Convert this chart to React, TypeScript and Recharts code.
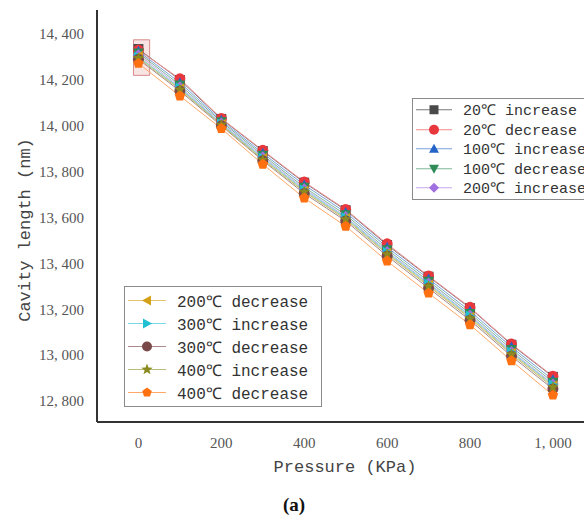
import React from "react";
import {
  LineChart,
  Line,
  XAxis,
  YAxis,
  ReferenceArea,
} from "recharts";

const pressures = [0, 100, 200, 300, 400, 500, 600, 700, 800, 900, 1000];

const inc20 = [14335, 14200, 14030, 13890, 13752, 13632, 13480, 13342, 13205, 13045, 12905];
const dec20 = [14330, 14205, 14032, 13893, 13755, 13635, 13485, 13345, 13208, 13048, 12908];
const inc100 = [14325, 14188, 14024, 13880, 13742, 13622, 13470, 13332, 13192, 13035, 12892];
const dec100 = [14318, 14178, 14018, 13872, 13732, 13612, 13460, 13322, 13182, 13025, 12882];
const inc200 = [14310, 14170, 14012, 13865, 13725, 13604, 13452, 13314, 13174, 13016, 12874];
const dec200 = [14302, 14162, 14006, 13857, 13716, 13596, 13444, 13305, 13165, 13008, 12866];
const inc300 = [14300, 14165, 14008, 13860, 13720, 13600, 13448, 13310, 13170, 13012, 12870];
const dec300 = [14290, 14152, 14000, 13848, 13705, 13585, 13432, 13292, 13152, 12995, 12852];
const inc400 = [14295, 14158, 14004, 13852, 13712, 13592, 13440, 13300, 13160, 13003, 12860];
const dec400 = [14272, 14130, 13988, 13832, 13685, 13562, 13410, 13270, 13132, 12975, 12825];

const xTicks = [0, 200, 400, 600, 800, 1000];
const yTicks = [12800, 13000, 13200, 13400, 13600, 13800, 14000, 14200, 14400];

type Shape = "square" | "circle" | "up" | "down" | "diamond" | "left" | "right" | "star" | "pentagon";

const series: { key: string; name: string; values: number[]; color: string; line: string; shape: Shape }[] = [
  { key: "inc20", name: "20℃ increase", values: inc20, color: "#4a4a4a", line: "#7a7a7a", shape: "square" },
  { key: "dec20", name: "20℃ decrease", values: dec20, color: "#e8383d", line: "#ef8a8d", shape: "circle" },
  { key: "inc100", name: "100℃ increase", values: inc100, color: "#2464c8", line: "#7aa0dc", shape: "up" },
  { key: "dec100", name: "100℃ decrease", values: dec100, color: "#2e8b57", line: "#7cb896", shape: "down" },
  { key: "inc200", name: "200℃ increase", values: inc200, color: "#a070e0", line: "#c6a8ee", shape: "diamond" },
  { key: "dec200", name: "200℃ decrease", values: dec200, color: "#d4a017", line: "#e4c470", shape: "left" },
  { key: "inc300", name: "300℃ increase", values: inc300, color: "#20c0d0", line: "#7ad8e2", shape: "right" },
  { key: "dec300", name: "300℃ decrease", values: dec300, color: "#7a4848", line: "#a88888", shape: "circle" },
  { key: "inc400", name: "400℃ increase", values: inc400, color: "#8a8a20", line: "#bcbc78", shape: "star" },
  { key: "dec400", name: "400℃ decrease", values: dec400, color: "#ff7010", line: "#ffa868", shape: "pentagon" },
];

const data = pressures.map((p, i) => {
  const row: Record<string, number> = { pressure: p };
  series.forEach((s) => (row[s.key] = s.values[i]));
  return row;
});

const poly = (pts: number[][]) => pts.map((p) => p.join(",")).join(" ");

function Marker({ cx, cy, shape, color, r = 5 }: { cx: number; cy: number; shape: Shape; color: string; r?: number }) {
  switch (shape) {
    case "square":
      return <rect x={cx - r * 0.9} y={cy - r * 0.9} width={r * 1.8} height={r * 1.8} fill={color} />;
    case "circle":
      return <circle cx={cx} cy={cy} r={r} fill={color} />;
    case "up":
      return <polygon points={poly([[cx, cy - r], [cx + r, cy + r * 0.8], [cx - r, cy + r * 0.8]])} fill={color} />;
    case "down":
      return <polygon points={poly([[cx, cy + r], [cx + r, cy - r * 0.8], [cx - r, cy - r * 0.8]])} fill={color} />;
    case "diamond":
      return <polygon points={poly([[cx, cy - r], [cx + r, cy], [cx, cy + r], [cx - r, cy]])} fill={color} />;
    case "left":
      return <polygon points={poly([[cx - r, cy], [cx + r * 0.8, cy - r], [cx + r * 0.8, cy + r]])} fill={color} />;
    case "right":
      return <polygon points={poly([[cx + r, cy], [cx - r * 0.8, cy - r], [cx - r * 0.8, cy + r]])} fill={color} />;
    case "star": {
      const pts: number[][] = [];
      for (let k = 0; k < 10; k++) {
        const a = -Math.PI / 2 + (k * Math.PI) / 5;
        const rr = k % 2 === 0 ? r : r * 0.42;
        pts.push([cx + rr * Math.cos(a), cy + rr * Math.sin(a)]);
      }
      return <polygon points={poly(pts)} fill={color} />;
    }
    case "pentagon": {
      const pts: number[][] = [];
      for (let k = 0; k < 5; k++) {
        const a = -Math.PI / 2 + (k * 2 * Math.PI) / 5;
        pts.push([cx + r * Math.cos(a), cy + r * Math.sin(a)]);
      }
      return <polygon points={poly(pts)} fill={color} />;
    }
  }
  return null;
}

const fmt = (v: number) => v.toLocaleString("en-US").replace(",", ", ");

function LegendBox({
  items,
  style,
  rowH,
  fontSize,
  lineW,
}: {
  items: typeof series;
  style: React.CSSProperties;
  rowH: number;
  fontSize: number;
  lineW: number;
}) {
  return (
    <div
      style={{
        position: "absolute",
        background: "#fff",
        border: "1px solid #8a8a8a",
        boxSizing: "border-box",
        ...style,
      }}
    >
      {items.map((s) => (
        <div key={s.key} style={{ display: "flex", alignItems: "center", height: rowH }}>
          <svg width={lineW} height={rowH} style={{ flex: "none" }}>
            <line x1={0} x2={lineW} y1={rowH / 2} y2={rowH / 2} stroke={s.line} strokeWidth={1} />
            <Marker cx={lineW / 2} cy={rowH / 2} shape={s.shape} color={s.color} r={s.shape === "star" ? 6 : 5} />
          </svg>
          <span
            style={{
              marginLeft: 11,
              fontFamily: "'Liberation Mono', monospace",
              fontSize,
              color: "#333",
              whiteSpace: "nowrap",
            }}
          >
            {s.name}
          </span>
        </div>
      ))}
    </div>
  );
}

export default function App() {
  return (
    <div style={{ position: "absolute", left: 0, top: 0, width: 584, height: 517, overflow: "hidden", background: "#fff" }}>
      <LineChart width={584} height={517} data={data} margin={{ top: 10, right: 0, bottom: 65, left: 0 }}>
        <XAxis
          dataKey="pressure"
          type="number"
          domain={[-100, 1075]}
          ticks={xTicks}
          tickFormatter={fmt}
          tickLine={false}
          height={30}
          axisLine={{ stroke: "#333", strokeWidth: 2 }}
          tick={{ fill: "#555", fontSize: 15, fontFamily: "'Liberation Serif', serif" }}
          tickMargin={9}
          allowDataOverflow
        />
        <YAxis
          type="number"
          domain={[12708, 14505]}
          ticks={yTicks}
          tickFormatter={fmt}
          tickLine={false}
          width={97}
          axisLine={{ stroke: "#333", strokeWidth: 2 }}
          tick={{ fill: "#555", fontSize: 15, fontFamily: "'Liberation Serif', serif" }}
          tickMargin={7}
          allowDataOverflow
        />
        {series.map((s) => (
          <Line
            key={s.key}
            dataKey={s.key}
            name={s.name}
            stroke={s.line}
            strokeWidth={1}
            isAnimationActive={false}
            dot={(p: any) => (
              <Marker key={`${s.key}-${p.index}`} cx={p.cx} cy={p.cy} shape={s.shape} color={s.color} r={s.shape === "star" ? 6 : 5.5} />
            )}
            activeDot={false}
          />
        ))}
        <ReferenceArea
          x1={-12}
          x2={27}
          y1={14220}
          y2={14375}
          fill="#f2c4c4"
          fillOpacity={0.45}
          stroke="#d88a8a"
          strokeWidth={1}
        />
      </LineChart>

      <LegendBox
        items={series.slice(0, 5)}
        style={{ left: 412, top: 98, width: 190, padding: "1px 0 1px 3px" }}
        rowH={19.5}
        fontSize={15}
        lineW={36}
      />
      <LegendBox
        items={series.slice(5)}
        style={{ left: 124, top: 286, width: 198, padding: "2px 0 2px 3px" }}
        rowH={23}
        fontSize={16}
        lineW={38}
      />

      <div
        style={{
          position: "absolute",
          left: 25,
          top: 230,
          transform: "translate(-50%, -50%) rotate(-90deg)",
          fontFamily: "'Liberation Mono', monospace",
          fontSize: 17,
          color: "#444",
          whiteSpace: "nowrap",
        }}
      >
        Cavity length (nm)
      </div>
      <div
        style={{
          position: "absolute",
          left: 345,
          top: 467,
          transform: "translate(-50%, -50%)",
          fontFamily: "'Liberation Mono', monospace",
          fontSize: 17,
          color: "#444",
          whiteSpace: "nowrap",
        }}
      >
        Pressure (KPa)
      </div>
      <div
        style={{
          position: "absolute",
          left: 294,
          top: 505,
          transform: "translate(-50%, -50%)",
          fontFamily: "'Liberation Serif', serif",
          fontWeight: "bold",
          fontSize: 19,
          color: "#111",
        }}
      >
        (a)
      </div>
    </div>
  );
}
